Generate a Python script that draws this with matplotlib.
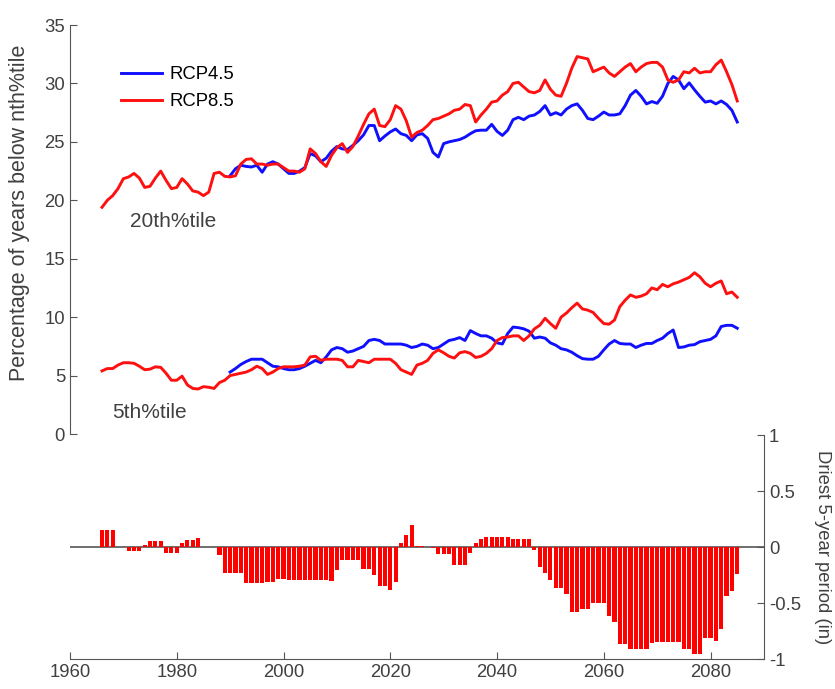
import numpy as np
import matplotlib
matplotlib.use('Agg')
import matplotlib.pyplot as plt

# Años
years_85 = np.arange(1966, 2086)
years_45 = np.arange(1990, 2086)

# Porcentaje de años por debajo del percentil 20
rcp85_p20 = [19.4, 20.0, 20.4, 21.0,
             21.85, 22.0, 22.3, 21.9, 21.1, 21.2, 21.9, 22.5, 21.7, 21.0,
             21.1, 21.85, 21.4, 20.8, 20.7, 20.4, 20.7, 22.3, 22.4, 22.05,
             22.0, 22.1, 23.1, 23.5, 23.55, 23.1, 23.1, 23.0, 23.1, 23.1,
             22.8, 22.5, 22.5, 22.4, 22.7, 24.4, 24.0, 23.3, 22.9, 23.85,
             24.5, 24.85, 24.1, 24.6, 25.5, 26.5, 27.4, 27.8, 26.4, 26.3,
             26.9, 28.1, 27.8, 26.8, 25.4, 25.8, 26.0, 26.4, 26.9, 27.0,
             27.2, 27.4, 27.7, 27.8, 28.2, 28.1, 26.7, 27.3, 27.8, 28.4,
             28.5, 29.0, 29.3, 30.0, 30.1, 29.7, 29.3, 29.2, 29.4, 30.3,
             29.5, 29.0, 28.9, 30.0, 31.3, 32.3, 32.2, 32.1, 31.0, 31.2,
             31.4, 30.9, 30.6, 31.0, 31.4, 31.7, 31.0, 31.4, 31.7, 31.8,
             31.8, 31.4, 30.3, 30.1, 30.3, 31.0, 30.9, 31.3, 30.9, 31.0,
             31.0, 31.6, 32.0, 31.0, 29.9, 28.5]

rcp45_p20 = [22.1, 22.7, 23.0, 22.9, 22.85, 23.0, 22.4, 23.1, 23.3, 23.1,
             22.7, 22.3, 22.3, 22.5, 22.8, 24.0, 23.8, 23.3, 23.6, 24.2,
             24.6, 24.4, 24.35, 24.7, 25.1, 25.6, 26.4, 26.4, 25.1, 25.5,
             25.85, 26.1, 25.7, 25.55, 25.1, 25.6, 25.7, 25.3, 24.1, 23.7,
             24.85, 25.0, 25.1, 25.2, 25.4, 25.7, 25.95, 26.0, 26.0, 26.5,
             25.9, 25.55, 26.0, 26.9, 27.1, 26.9, 27.2, 27.3, 27.6, 28.1,
             27.3, 27.5, 27.3, 27.8, 28.1, 28.25, 27.7, 27.0, 26.9, 27.2,
             27.55, 27.3, 27.3, 27.4, 28.1, 29.0, 29.4, 28.9, 28.25, 28.45,
             28.3, 28.9, 30.0, 30.6, 30.3, 29.55, 30.05, 29.45, 28.9, 28.4,
             28.5, 28.25, 28.5, 28.2, 27.7, 26.7]

# Porcentaje de años por debajo del percentil 5
rcp85_p5 = [5.4, 5.6, 5.6, 5.9,
            6.1, 6.1, 6.05, 5.8, 5.5, 5.55, 5.75, 5.7, 5.2, 4.6,
            4.6, 4.95, 4.2, 3.9, 3.85, 4.05, 4.0, 3.9, 4.4, 4.6,
            5.0, 5.1, 5.2, 5.3, 5.5, 5.8, 5.6, 5.1, 5.3, 5.6,
            5.75, 5.75, 5.75, 5.8, 5.9, 6.6, 6.65, 6.3, 6.4, 6.4,
            6.4, 6.3, 5.75, 5.75, 6.3, 6.2, 6.1, 6.4, 6.4, 6.4,
            6.4, 6.05, 5.5, 5.3, 5.1, 5.9, 6.05, 6.3, 6.9, 7.2,
            6.95, 6.65, 6.5, 6.95, 7.05, 6.9, 6.55, 6.65, 6.9, 7.3,
            8.0, 8.25, 8.3, 8.4, 8.4, 8.0, 8.4, 9.0, 9.3, 9.9,
            9.45, 9.05, 10.0, 10.35, 10.8, 11.2, 10.7, 10.6, 10.4, 9.9,
            9.45, 9.4, 9.75, 10.9, 11.45, 11.9, 11.7, 11.8, 12.0, 12.5,
            12.35, 12.8, 12.6, 12.85, 13.0, 13.2, 13.4, 13.8, 13.45, 12.9,
            12.6, 12.9, 13.1, 12.0, 12.15, 11.7]

rcp45_p5 = [5.3, 5.6, 5.95, 6.2, 6.4, 6.4, 6.4, 6.1, 5.8, 5.75,
            5.6, 5.5, 5.5, 5.6, 5.8, 6.05, 6.3, 6.1, 6.6, 7.2,
            7.4, 7.3, 7.0, 7.1, 7.3, 7.5, 8.0, 8.1, 8.0, 7.7,
            7.7, 7.7, 7.7, 7.6, 7.4, 7.5, 7.7, 7.6, 7.3, 7.4,
            7.7, 8.0, 8.1, 8.25, 8.0, 8.85, 8.6, 8.4, 8.4, 8.2,
            7.8, 7.7, 8.6, 9.15, 9.1, 9.0, 8.8, 8.2, 8.3, 8.2,
            7.8, 7.6, 7.3, 7.2, 7.0, 6.7, 6.45, 6.4, 6.4, 6.65,
            7.2, 7.7, 8.0, 7.75, 7.7, 7.7, 7.4, 7.6, 7.75, 7.75,
            8.0, 8.2, 8.6, 8.9, 7.4, 7.45, 7.6, 7.65, 7.9, 8.0,
            8.1, 8.4, 9.2, 9.3, 9.3, 9.05]

# Periodo de 5 años más seco (pulgadas)
driest_5yr = [0.15, 0.15, 0.15, 0.0,
              0.0, -0.035, -0.035, -0.035, 0.015, 0.056, 0.056, 0.056, -0.05, -0.05,
              -0.05, 0.04, 0.065, 0.065, 0.078, 0.003, 0.003, 0.003, -0.07, -0.23,
              -0.23, -0.23, -0.23, -0.32, -0.32, -0.32, -0.32, -0.31, -0.31, -0.285,
              -0.285, -0.29, -0.29, -0.29, -0.29, -0.29, -0.29, -0.29, -0.29, -0.30,
              -0.205, -0.12, -0.12, -0.12, -0.12, -0.2, -0.2, -0.25, -0.35, -0.35,
              -0.38, -0.31, 0.033, 0.107, 0.196, 0.01, 0.01, 0.003, -0.005, -0.065,
              -0.065, -0.065, -0.16, -0.16, -0.16, -0.05, 0.04, 0.068, 0.086, 0.086,
              0.086, 0.086, 0.086, 0.068, 0.068, 0.068, 0.068, -0.03, -0.175, -0.23,
              -0.29, -0.37, -0.37, -0.42, -0.58, -0.58, -0.55, -0.55, -0.50, -0.50,
              -0.50, -0.62, -0.67, -0.87, -0.87, -0.91, -0.91, -0.91, -0.91, -0.86,
              -0.845, -0.845, -0.845, -0.845, -0.845, -0.91, -0.91, -0.955, -0.955, -0.81,
              -0.81, -0.84, -0.73, -0.44, -0.39, -0.24]

plt.rcParams['font.family'] = ['Liberation Sans', 'DejaVu Sans']
plt.rcParams['font.size'] = 13.3
gris = '#555555'
texto = '#404040'

fig = plt.figure(figsize=(8.35, 6.89), dpi=100)

# Panel superior: líneas
ax = fig.add_axes([0.0838, 0.3701, 0.8311, 0.5936])
ax.plot(years_45, rcp45_p20, color='#1010ff', lw=2.1, label='RCP4.5')
ax.plot(years_85, rcp85_p20, color='#ff1010', lw=2.1, label='RCP8.5')
ax.plot(years_45, rcp45_p5, color='#1010ff', lw=2.1)
ax.plot(years_85, rcp85_p5, color='#ff1010', lw=2.1)
ax.set_xlim(1960, 2090)
ax.set_ylim(0, 35)
ax.set_yticks(range(0, 36, 5))
ax.set_xticks([])
for s in ['top', 'right', 'bottom']:
    ax.spines[s].set_visible(False)
ax.spines['left'].set_color(gris)
ax.tick_params(axis='y', direction='in', length=5, colors=gris, labelcolor=texto)
ax.set_ylabel('Percentage of years below nth%tile', color=texto, fontsize=15.5)
ax.yaxis.set_label_coords(-0.057, 0.54)
ax.patch.set_visible(False)
ax.text(1971.3, 18.2, '20th%tile', color=texto, ha='left', va='center', fontsize=15)
ax.text(1967.9, 1.8, '5th%tile', color=texto, ha='left', va='center', fontsize=15)
ax.legend(loc='upper left', bbox_to_anchor=(0.05, 0.94), frameon=False,
          handlelength=2.2, handletextpad=0.4, labelspacing=0.55)

# Panel inferior: barras
ax2 = fig.add_axes([0.0838, 0.0435, 0.8311, 0.3251])
ax2.bar(years_85, driest_5yr, width=0.78, color='#ff0000', edgecolor='none')
ax2.axhline(0, color=gris, lw=1.2, zorder=0)
ax2.set_xlim(1960, 2090)
ax2.set_ylim(-1, 1)
ax2.set_xticks(range(1960, 2081, 20))
ax2.set_yticks([-1, -0.5, 0, 0.5, 1])
ax2.set_yticklabels(['-1', '-0.5', '0', '0.5', '1'])
ax2.yaxis.tick_right()
ax2.yaxis.set_label_position('right')
for s in ['top', 'left']:
    ax2.spines[s].set_visible(False)
for s in ['bottom', 'right']:
    ax2.spines[s].set_color(gris)
ax2.tick_params(direction='in', length=5, colors=gris, labelcolor=texto)
ax2.set_ylabel('Driest 5-year period (in)', color=texto, rotation=-90, labelpad=22)
ax2.patch.set_visible(False)

plt.savefig('out.png', dpi=100)
